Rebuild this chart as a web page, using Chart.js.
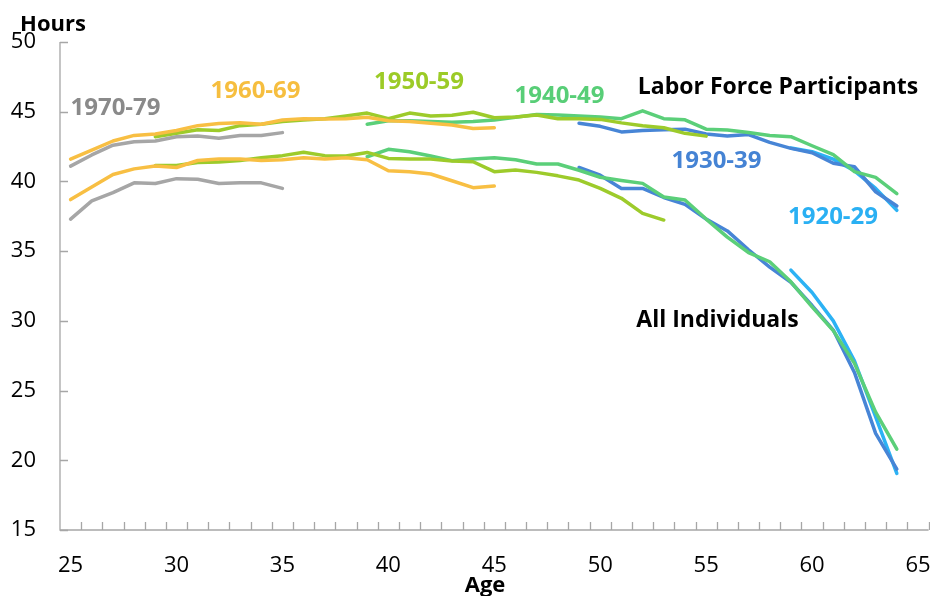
<!DOCTYPE html>
<html>
<head>
<meta charset="utf-8">
<script src="https://cdn.jsdelivr.net/npm/chart.js@4"></script>
<style>
  html, body { margin: 0; padding: 0; background: #ffffff; }
  #wrap { width: 930px; height: 596px; position: relative; }
</style>
</head>
<body>
<div id="wrap"><canvas id="c" width="930" height="596"></canvas></div>
<script>
// ---------- DATA ----------
const ages = [25,26,27,28,29,30,31,32,33,34,35,36,37,38,39,40,41,42,43,44,45,
              46,47,48,49,50,51,52,53,54,55,56,57,58,59,60,61,62,63,64,65];
const tickLabels = ['25','30','35','40','45','50','55','60','65'];
const yTicks = [15,20,25,30,35,40,45,50];

const cohorts = ['1970-79','1960-69','1950-59','1940-49','1930-39','1920-29'];
const startAge = [25, 25, 29, 39, 49, 59];

// Labor force participants (upper curves), starting at startAge
const lfp1970 = [41.1,41.9,42.6,42.85,42.9,43.2,43.25,43.1,43.3,43.3,43.5];
const lfp1960 = [41.6,42.25,42.9,43.3,43.4,43.65,44.0,44.15,44.2,44.1,44.4,44.5,
                 44.48,44.5,44.6,44.35,44.3,44.17,44.05,43.8,43.85];
const lfp1950 = [43.2,43.45,43.7,43.65,44.0,44.1,44.3,44.4,44.5,44.7,44.9,44.5,44.9,
                 44.7,44.74,44.96,44.57,44.62,44.76,44.5,44.5,44.45,44.2,44.0,43.85,43.45,43.25];
const lfp1940 = [44.1,44.35,44.35,44.3,44.24,44.3,44.4,44.6,44.8,44.77,44.7,44.62,44.5,
                 45.06,44.5,44.42,43.75,43.69,43.51,43.3,43.21,42.56,41.93,40.7,40.29,39.12];
const lfp1930 = [44.17,43.95,43.55,43.65,43.7,43.75,43.4,43.26,43.36,42.8,42.37,42.06,
                 41.3,41.06,39.26,38.24];
const lfp1920 = [42.4,42.13,41.6,40.76,39.5,37.93];

// All individuals (lower curves), starting at startAge
const all1970 = [37.3,38.6,39.2,39.9,39.85,40.2,40.15,39.85,39.9,39.9,39.5];
const all1960 = [38.7,39.6,40.5,40.9,41.1,41.0,41.5,41.6,41.6,41.5,41.55,41.7,
                 41.6,41.7,41.55,40.77,40.7,40.53,40.05,39.55,39.67];
const all1950 = [41.15,41.15,41.35,41.4,41.5,41.7,41.85,42.1,41.85,41.82,42.08,41.65,
                 41.6,41.6,41.46,41.41,40.7,40.82,40.65,40.4,40.1,39.5,38.79,37.71,37.23];
const all1940 = [41.77,42.3,42.13,41.82,41.49,41.6,41.7,41.56,41.25,41.25,40.8,40.3,
                 40.07,39.86,38.88,38.67,37.3,36.0,34.9,34.24,32.8,31.0,29.3,26.95,23.45,20.8];
const all1930 = [41.0,40.45,39.5,39.5,38.85,38.35,37.3,36.45,35.1,33.85,32.77,31.1,
                 29.34,26.3,21.93,19.37];
const all1920 = [33.64,32.03,30.0,27.13,23.12,19.06];

const lfpSeries = [lfp1970, lfp1960, lfp1950, lfp1940, lfp1930, lfp1920];
const allSeries = [all1970, all1960, all1950, all1940, all1930, all1920];

// ---------- STYLE ----------
const lineColors  = ['#a6a6a6','#f8bf43','#9dcb2b','#5bcf79','#4785d6','#2cb2f4'];
const labelColors = ['#8a8a8a','#f6be3f','#9ccb27','#58ce77','#4583d4','#2ab0f3'];
const FONT = "'Open Sans', 'Noto Sans', sans-serif";

function padSeries(start, vals) {
  return ages.map(a => {
    const i = a - start;
    return (i >= 0 && i < vals.length) ? vals[i] : null;
  });
}

const datasets = [];
cohorts.forEach((name, k) => {
  [lfpSeries[k], allSeries[k]].forEach((vals, j) => {
    datasets.push({
      label: name + (j === 0 ? ' LFP' : ' All'),
      data: padSeries(startAge[k], vals),
      borderColor: lineColors[k],
      backgroundColor: lineColors[k],
      borderWidth: 3.5,
      pointRadius: 0,
      pointHoverRadius: 0,
      tension: 0,
      fill: false,
      spanGaps: false,
      borderCapStyle: 'round',
      borderJoinStyle: 'round',
      order: k
    });
  });
});

const annotations = [
  { text: '1970-79', x: 115.5, y: 115, color: labelColors[0], size: 24 },
  { text: '1960-69', x: 255.5, y: 98,  color: labelColors[1], size: 24 },
  { text: '1950-59', x: 419,   y: 89,  color: labelColors[2], size: 24 },
  { text: '1940-49', x: 559.5, y: 102.5, color: labelColors[3], size: 24 },
  { text: '1930-39', x: 716.5, y: 168, color: labelColors[4], size: 24 },
  { text: '1920-29', x: 833,   y: 224, color: labelColors[5], size: 24 },
  { text: 'Labor Force Participants', x: 778, y: 94, color: '#000000', size: 23 },
  { text: 'All Individuals', x: 717.5, y: 327, color: '#000000', size: 23 },
  { text: 'Hours', x: 53, y: 31, color: '#000000', size: 22 },
  { text: 'Age', x: 485, y: 592, color: '#000000', size: 22 }
];

const AXIS_COLOR = '#a6a6a6';

const decorPlugin = {
  id: 'decor',
  afterDraw(chart) {
    const ctx = chart.ctx;
    const xs = chart.scales.x, ys = chart.scales.y;
    const area = chart.chartArea;
    ctx.save();
    ctx.strokeStyle = AXIS_COLOR;
    ctx.lineWidth = 1.3;
    // axis lines
    ctx.beginPath();
    ctx.moveTo(area.left, area.top);
    ctx.lineTo(area.left, area.bottom);
    ctx.lineTo(area.right, area.bottom);
    ctx.stroke();
    // y ticks (inside)
    ctx.beginPath();
    yTicks.forEach(v => {
      const py = Math.round(ys.getPixelForValue(v)) + 0.5;
      ctx.moveTo(area.left, py);
      ctx.lineTo(area.left + 8, py);
    });
    // x ticks at category boundaries (inside)
    const half = (xs.getPixelForValue(1) - xs.getPixelForValue(0)) / 2;
    for (let i = 0; i < ages.length; i++) {
      const px = Math.round(xs.getPixelForValue(i) + half) + 0.5;
      ctx.moveTo(px, area.bottom);
      ctx.lineTo(px, area.bottom - 8);
    }
    ctx.stroke();
    // text annotations
    ctx.textAlign = 'center';
    ctx.textBaseline = 'alphabetic';
    annotations.forEach(a => {
      ctx.font = 'bold ' + a.size + 'px ' + FONT;
      ctx.fillStyle = a.color;
      ctx.fillText(a.text, a.x, a.y);
    });
    ctx.restore();
  }
};

new Chart(document.getElementById('c'), {
  type: 'line',
  data: { labels: ages.map(String), datasets },
  options: {
    responsive: false,
    animation: false,
    events: [],
    layout: { padding: { top: 42, right: 1.4, left: 0, bottom: 0 } },
    plugins: { legend: { display: false }, tooltip: { enabled: false } },
    scales: {
      x: {
        type: 'category',
        offset: true,
        grid: { display: false, drawTicks: false },
        border: { display: false },
        ticks: {
          autoSkip: false,
          maxRotation: 0,
          minRotation: 0,
          padding: 23,
          color: '#000000',
          font: { family: FONT, size: 22 },
          callback: function(value) {
            const lab = this.getLabelForValue(value);
            return tickLabels.includes(lab) ? lab : '';
          }
        },
        afterFit(scale) {
          scale.height = 66;
          scale.paddingLeft = 0;
          scale.paddingRight = 0;
        }
      },
      y: {
        min: 15, max: 50,
        grid: { display: false, drawTicks: false },
        border: { display: false },
        ticks: {
          stepSize: 5,
          padding: 24,
          color: '#000000',
          font: { family: FONT, size: 22 }
        },
        afterBuildTicks(scale) { scale.ticks = yTicks.map(v => ({ value: v })); },
        afterFit(scale) {
          scale.width = 60;
          scale.paddingTop = 0;
          scale.paddingBottom = 0;
        }
      }
    }
  },
  plugins: [decorPlugin]
});
</script>
</body>
</html>
